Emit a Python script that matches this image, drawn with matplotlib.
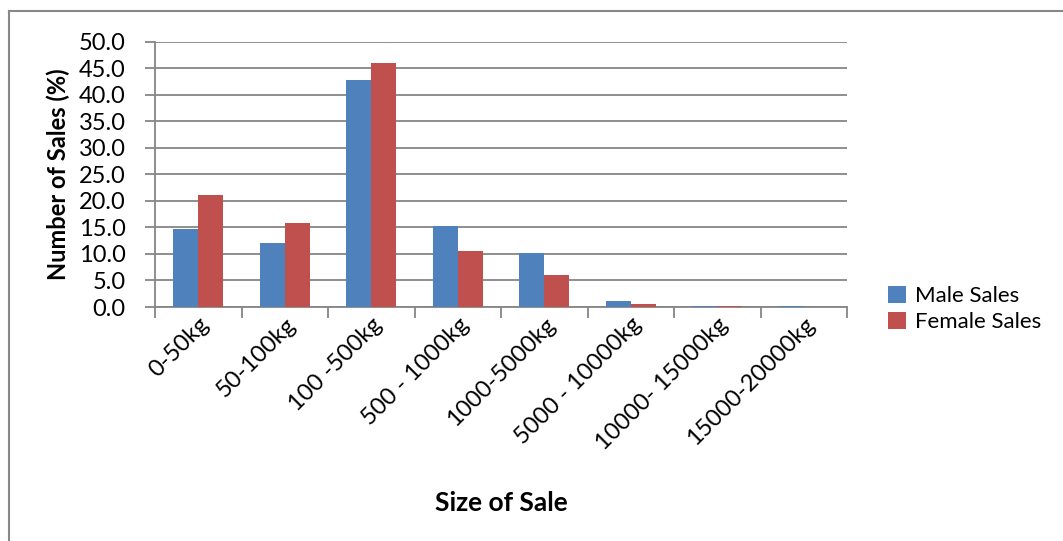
import matplotlib
matplotlib.use("Agg")
import matplotlib.pyplot as plt
from matplotlib.lines import Line2D
import numpy as np

plt.rcParams['font.family'] = ['Lato', 'DejaVu Sans']

# data
categories = ['0-50kg', '50-100kg', '100 -500kg', '500 - 1000kg', '1000-5000kg',
              '5000 - 10000kg', '10000- 15000kg', '15000-20000kg']
male_sales = [14.6, 12.0, 42.8, 15.3, 10.2, 1.1, 0.2, 0.1]
female_sales = [21.1, 15.8, 45.9, 10.6, 6.0, 0.5, 0.1, 0.05]
yticks = np.arange(0, 50.1, 5)

BLUE = '#4F81BD'
RED = '#C0504D'
GRID = '#868686'

fig = plt.figure(figsize=(10.63, 5.41), dpi=100)
ax = fig.add_axes([155/1063, 1 - 307/541, (847-155)/1063, (307-41.5)/541])

x = np.arange(len(categories))
w = 0.29
ax.bar(x - w/2, male_sales, w, color=BLUE, label='Male Sales', zorder=3)
ax.bar(x + w/2, female_sales, w, color=RED, label='Female Sales', zorder=3)

ax.set_xlim(-0.5, len(categories) - 0.5)
ax.set_ylim(0, 50)
ax.set_yticks(yticks)
ax.set_yticklabels([f"{v:.1f}" for v in yticks], fontsize=17)
ax.yaxis.grid(True, color=GRID, lw=1.3, zorder=0)
ax.set_axisbelow(True)

# category boundaries as tick marks, labels at centers
ax.set_xticks(np.arange(-0.5, len(categories)), minor=False)
ax.set_xticklabels([])
ax.tick_params(axis='x', which='major', direction='out', length=8, color=GRID, width=1.3)
ax.set_xticks(x, minor=True)
ax.set_xticklabels(categories, minor=True, rotation=45, ha='right', va='top',
                   rotation_mode='anchor', fontsize=17)
ax.tick_params(axis='x', which='minor', length=0, pad=5)
ax.tick_params(axis='y', direction='out', length=7, color=GRID, width=1.3, pad=14)

for s in ['top', 'right']:
    ax.spines[s].set_visible(False)
for s in ['left', 'bottom']:
    ax.spines[s].set_color(GRID)
    ax.spines[s].set_linewidth(1.3)

ax.set_ylabel('Number of Sales (%)', fontsize=17, fontweight='bold', labelpad=6)
ax.set_xlabel('Size of Sale', fontsize=19, fontweight='bold', labelpad=27)

fig.legend(loc='upper left', bbox_to_anchor=(868/1063, 1 - 266/541), frameon=False,
           fontsize=16, handlelength=0.8, handleheight=0.8, handletextpad=0.4,
           labelspacing=0.25)

# chart border (cut off at right and bottom)
fig.add_artist(Line2D([9/1063, 1.01], [1 - 11/541, 1 - 11/541], color='#888888', lw=1.5))
fig.add_artist(Line2D([9/1063, 9/1063], [-0.01, 1 - 11/541], color='#888888', lw=1.5))

fig.savefig('out.png', dpi=100)
